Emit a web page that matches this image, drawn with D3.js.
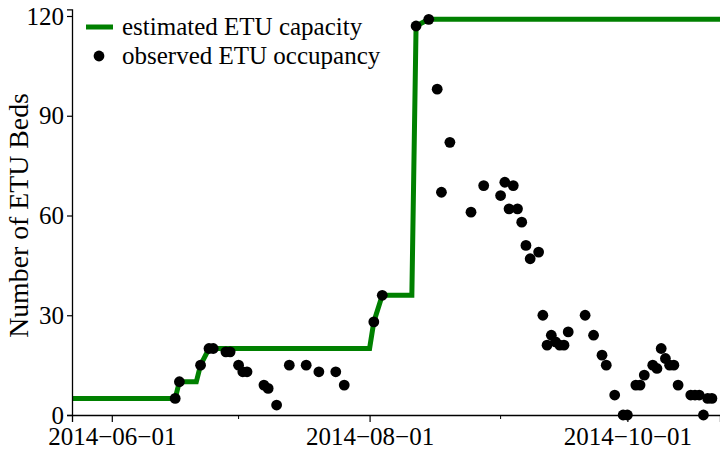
<!DOCTYPE html>
<html>
<head>
<meta charset="utf-8">
<script src="https://cdn.jsdelivr.net/npm/d3@7"></script>
<style>
  body { margin: 0; background: #fff; }
  svg text { font-family: 'Liberation Serif', 'Times New Roman', serif; }
</style>
</head>
<body>
<svg id="chart" width="720" height="450"></svg>
<script>
// Estimated ETU capacity (step-like line)
const capDates = ['2014-05-20', '2014-06-16', '2014-06-17', '2014-06-21', '2014-06-22', '2014-06-24',
    '2014-08-01', '2014-08-02', '2014-08-04', '2014-08-11', '2014-08-12', '2014-08-15', '2014-10-25'];
const capValues = [5, 5, 10, 10, 15, 20, 20, 28, 36, 36, 117, 119, 119];

// Observed ETU occupancy
const obsDates = ['2014-06-16', '2014-06-17', '2014-06-22', '2014-06-24', '2014-06-25', '2014-06-28',
    '2014-06-29', '2014-07-01', '2014-07-02', '2014-07-03', '2014-07-07', '2014-07-08', '2014-07-10',
    '2014-07-13', '2014-07-17', '2014-07-20', '2014-07-24', '2014-07-26', '2014-08-02', '2014-08-04',
    '2014-08-12', '2014-08-15', '2014-08-17', '2014-08-18', '2014-08-20', '2014-08-25', '2014-08-28',
    '2014-09-01', '2014-09-02', '2014-09-03', '2014-09-04', '2014-09-05', '2014-09-06', '2014-09-07',
    '2014-09-08', '2014-09-10', '2014-09-11', '2014-09-12', '2014-09-13', '2014-09-14', '2014-09-15',
    '2014-09-16', '2014-09-17', '2014-09-21', '2014-09-23', '2014-09-25', '2014-09-26', '2014-09-28',
    '2014-09-30', '2014-10-01', '2014-10-03', '2014-10-04', '2014-10-05', '2014-10-07', '2014-10-08',
    '2014-10-09', '2014-10-10', '2014-10-11', '2014-10-12', '2014-10-13', '2014-10-16', '2014-10-17',
    '2014-10-18', '2014-10-19', '2014-10-20', '2014-10-21'];
const obsValues = [5, 10, 15, 20, 20, 19,
    19, 15, 13, 13, 9, 8, 3,
    15, 15, 13, 13, 9, 28, 36,
    117, 119, 98, 67, 82, 61, 69,
    66, 70, 62, 69, 62, 58, 51,
    47, 49, 30, 21, 24, 22, 21,
    21, 25, 30, 24, 18, 15, 6,
    0, 0, 9, 9, 12, 15, 14,
    20, 17, 15, 15, 9, 6, 6,
    6, 0, 5, 5];

// Axis ticks
const majorTicks = ['2014-06-01', '2014-08-01', '2014-10-01'];
const minorTicks = ['2014-07-01', '2014-09-01'];
const yTicks = [0, 30, 60, 90, 120];
const xDomain = ['2014-05-22T14:00', '2014-10-22T22:00'];
const yDomain = [0, 122];

const SERIF = "'Liberation Serif', 'Times New Roman', serif";
const parseDay = d3.utcParse('%Y-%m-%d');
const parseHour = d3.utcParse('%Y-%m-%dT%H:%M');

const margin = { top: 9, right: 0, bottom: 35, left: 72 };
const width = 720, height = 450;

const svg = d3.select('#chart');

const xScale = d3.scaleUtc()
    .domain(xDomain.map(parseHour))
    .range([margin.left, width - margin.right]);

const yScale = d3.scaleLinear()
    .domain(yDomain)
    .range([height - margin.bottom, height - margin.bottom - yDomain[1] * 3.325]);

const fmt = d3.utcFormat('%Y\u2212%m\u2212%d');

// Clip to plot area
svg.append('clipPath')
    .attr('id', 'plot-clip')
    .append('rect')
    .attr('x', margin.left)
    .attr('y', 0)
    .attr('width', width - margin.left)
    .attr('height', height - margin.bottom);

// Capacity line
const capData = capDates.map((d, i) => ({ date: parseDay(d), value: capValues[i] }));
const line = d3.line()
    .x(d => xScale(d.date))
    .y(d => yScale(d.value));

svg.append('path')
    .datum(capData)
    .attr('clip-path', 'url(#plot-clip)')
    .attr('fill', 'none')
    .attr('stroke', '#008000')
    .attr('stroke-width', 5)
    .attr('d', line);

// Occupancy dots
const obsData = obsDates.map((d, i) => ({ date: parseDay(d), value: obsValues[i] }));
svg.append('g')
    .selectAll('circle')
    .data(obsData)
    .enter()
    .append('circle')
    .attr('cx', d => xScale(d.date))
    .attr('cy', d => yScale(d.value))
    .attr('r', 5.4)
    .attr('fill', '#000');

// X axis (major with labels, minor without)
const xAxis = d3.axisBottom(xScale)
    .tickValues(majorTicks.map(parseDay))
    .tickFormat(fmt)
    .tickSize(7)
    .tickPadding(5);

const gx = svg.append('g')
    .attr('transform', `translate(0, ${height - margin.bottom})`)
    .attr('font-family', SERIF)
    .call(xAxis);
gx.select('.domain').attr('stroke-width', 1.3);
gx.selectAll('.tick line').attr('stroke-width', 1.2);
gx.selectAll('.tick text')
    .attr('fill', '#000')
    .style('font-family', SERIF)
    .style('font-size', '25px');

svg.append('g')
    .attr('transform', `translate(0, ${height - margin.bottom})`)
    .selectAll('line')
    .data(minorTicks.map(parseDay))
    .enter()
    .append('line')
    .attr('x1', d => xScale(d))
    .attr('x2', d => xScale(d))
    .attr('y1', 0)
    .attr('y2', 4)
    .attr('stroke', '#000')
    .attr('stroke-width', 1);

// Y axis
const yAxis = d3.axisLeft(yScale)
    .tickValues(yTicks)
    .tickSize(5)
    .tickPadding(3);

const gy = svg.append('g')
    .attr('transform', `translate(${margin.left}, 0)`)
    .call(yAxis);
gy.select('.domain').attr('stroke-width', 1.3);
gy.selectAll('.tick line').attr('stroke-width', 1.2);
gy.selectAll('.tick text')
    .attr('fill', '#000')
    .style('font-family', SERIF)
    .style('font-size', '25px');

// Y label
svg.append('text')
    .attr('transform', `translate(28, ${yScale(60)}) rotate(-90)`)
    .attr('text-anchor', 'middle')
    .style('font-family', SERIF)
    .style('font-size', '27.8px')
    .text('Number of ETU Beds');

// Legend
const legend = svg.append('g');
legend.append('line')
    .attr('x1', 86).attr('x2', 113)
    .attr('y1', 27).attr('y2', 27)
    .attr('stroke', '#008000')
    .attr('stroke-width', 5);
legend.append('text')
    .attr('x', 122).attr('y', 35)
    .style('font-family', SERIF)
    .style('font-size', '25px')
    .text('estimated ETU capacity');
legend.append('circle')
    .attr('cx', 99).attr('cy', 56)
    .attr('r', 5.4)
    .attr('fill', '#000');
legend.append('text')
    .attr('x', 122).attr('y', 64)
    .style('font-family', SERIF)
    .style('font-size', '25px')
    .text('observed ETU occupancy');
</script>
</body>
</html>
